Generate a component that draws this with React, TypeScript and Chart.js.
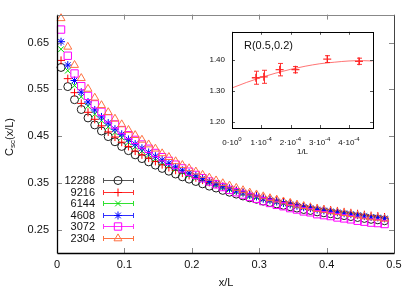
import React, { useEffect, useRef } from "react";
import { Chart, registerables } from "chart.js";
import { drawPoint } from "chart.js/helpers";

Chart.register(...registerables);

const FONT = "'Liberation Sans', Arial, Helvetica, sans-serif";

// ---------- main chart data ----------
const xOverL = [
  0.006, 0.016, 0.026, 0.036, 0.046, 0.056, 0.066, 0.076, 0.086, 0.096,
  0.106, 0.116, 0.126, 0.136, 0.146, 0.156, 0.166, 0.176, 0.186, 0.196,
  0.206, 0.216, 0.226, 0.236, 0.246, 0.256, 0.266, 0.276, 0.286, 0.296,
  0.306, 0.316, 0.326, 0.336, 0.346, 0.356, 0.366, 0.376, 0.386, 0.396,
  0.406, 0.416, 0.426, 0.436, 0.446, 0.456, 0.466, 0.476, 0.486,
];

const c12288 = [
  0.597, 0.556, 0.528, 0.507, 0.489, 0.474, 0.461, 0.449, 0.438, 0.428,
  0.419, 0.41, 0.402, 0.395, 0.388, 0.381, 0.375, 0.369, 0.363, 0.358,
  0.353, 0.348, 0.343, 0.339, 0.334, 0.33, 0.326, 0.322, 0.318, 0.315,
  0.311, 0.308, 0.305, 0.302, 0.299, 0.296, 0.293, 0.291, 0.288, 0.286,
  0.284, 0.282, 0.28, 0.278, 0.276, 0.274, 0.272, 0.271, 0.269,
];
const c9216 = [
  0.612, 0.573, 0.543, 0.52, 0.501, 0.486, 0.472, 0.459, 0.448, 0.437,
  0.428, 0.418, 0.41, 0.403, 0.396, 0.389, 0.383, 0.377, 0.371, 0.366,
  0.361, 0.356, 0.351, 0.347, 0.342, 0.338, 0.334, 0.33, 0.326, 0.323,
  0.319, 0.316, 0.313, 0.31, 0.307, 0.304, 0.301, 0.299, 0.296, 0.294,
  0.292, 0.29, 0.288, 0.286, 0.284, 0.282, 0.28, 0.279, 0.277,
];
const c6144 = [
  0.636, 0.59, 0.558, 0.534, 0.514, 0.497, 0.483, 0.47, 0.458, 0.447,
  0.437, 0.427, 0.418, 0.41, 0.402, 0.394, 0.387, 0.38, 0.373, 0.367,
  0.361, 0.356, 0.35, 0.345, 0.34, 0.336, 0.331, 0.327, 0.322, 0.319,
  0.315, 0.312, 0.309, 0.306, 0.303, 0.3, 0.297, 0.295, 0.292, 0.29,
  0.288, 0.286, 0.284, 0.282, 0.28, 0.278, 0.276, 0.275, 0.273,
];
const c4608 = [
  0.652, 0.602, 0.569, 0.544, 0.523, 0.506, 0.491, 0.478, 0.465, 0.454,
  0.443, 0.433, 0.424, 0.415, 0.407, 0.399, 0.392, 0.384, 0.377, 0.371,
  0.365, 0.359, 0.353, 0.348, 0.342, 0.338, 0.333, 0.329, 0.324, 0.321,
  0.316, 0.313, 0.31, 0.307, 0.304, 0.301, 0.298, 0.296, 0.293, 0.291,
  0.289, 0.287, 0.285, 0.283, 0.281, 0.279, 0.277, 0.276, 0.274,
];
const c3072 = [
  0.678, 0.622, 0.584, 0.557, 0.536, 0.518, 0.502, 0.488, 0.475, 0.463,
  0.452, 0.442, 0.432, 0.423, 0.414, 0.405, 0.397, 0.389, 0.381, 0.374,
  0.367, 0.36, 0.353, 0.347, 0.341, 0.335, 0.33, 0.325, 0.32, 0.316,
  0.311, 0.307, 0.303, 0.3, 0.296, 0.293, 0.289, 0.287, 0.283, 0.281,
  0.279, 0.276, 0.274, 0.272, 0.269, 0.267, 0.265, 0.264, 0.262,
];
const c2304 = [
  0.702, 0.641, 0.602, 0.574, 0.551, 0.532, 0.516, 0.501, 0.487, 0.475,
  0.463, 0.452, 0.442, 0.432, 0.423, 0.413, 0.405, 0.396, 0.388, 0.381,
  0.374, 0.367, 0.361, 0.355, 0.349, 0.344, 0.339, 0.334, 0.329, 0.325,
  0.321, 0.317, 0.314, 0.31, 0.307, 0.303, 0.3, 0.297, 0.294, 0.292,
  0.289, 0.287, 0.285, 0.283, 0.28, 0.278, 0.276, 0.275, 0.273,
];

const seriesLabels = ["12288", "9216", "6144", "4608", "3072", "2304"];
const seriesValues = [c12288, c9216, c6144, c4608, c3072, c2304];

const mainXTicks = [0, 0.1, 0.2, 0.3, 0.4, 0.5];
const mainYTicks = [0.25, 0.35, 0.45, 0.55, 0.65];

// ---------- inset data ----------
const invL = [0.0000814, 0.0001085, 0.0001628, 0.000217, 0.0003255, 0.000434];
const ratioR = [1.342, 1.345, 1.368, 1.368, 1.402, 1.395];
const ratioErr = [0.021, 0.021, 0.02, 0.01, 0.011, 0.01];
const fitX = [0, 0.00005, 0.0001, 0.00015, 0.0002, 0.00025, 0.0003, 0.00035, 0.0004, 0.00045, 0.00048];
const fitY = [1.309, 1.327, 1.343, 1.357, 1.369, 1.379, 1.387, 1.392, 1.396, 1.397, 1.396];
const insetXTicks = [0, 0.0001, 0.0002, 0.0003, 0.0004];
const insetXTickMantissa = ["0", "1", "2", "3", "4"];
const insetXTickExp = ["0", "-4", "-4", "-4", "-4"];
const insetYTicks = [1.2, 1.3, 1.4];
const insetLabel = "R(0.5,0.2)";

// ---------- styles ----------
const colors = ["#1c1c1c", "#ff0000", "#00dd00", "#0000ff", "#ff00ff", "#ff7040"];
const legendLineColors = ["#555555", "#ff3030", "#30e030", "#3030ff", "#ff30ff", "#ff7040"];
const pointStyles = ["circle", "cross", "crossRot", "star", "rect", "triangle"];
const radii = [4, 4, 4, 4, 5.2, 4.6];

function line(ctx: CanvasRenderingContext2D, x1: number, y1: number, x2: number, y2: number) {
  ctx.beginPath();
  ctx.moveTo(x1, y1);
  ctx.lineTo(x2, y2);
  ctx.stroke();
}

const mainDecor = {
  id: "mainDecor",
  afterDraw(chart: any) {
    const { ctx, chartArea: a, scales } = chart;
    const xs = scales.x;
    const ys = scales.y;
    ctx.save();
    ctx.lineWidth = 1;
    // inward ticks, mirrored
    ctx.strokeStyle = "#888";
    for (const v of mainXTicks) {
      const px = Math.round(xs.getPixelForValue(v)) + 0.5;
      line(ctx, px, a.bottom, px, a.bottom - 5);
      line(ctx, px, a.top, px, a.top + 5);
    }
    for (const v of mainYTicks) {
      const py = Math.round(ys.getPixelForValue(v)) + 0.5;
      line(ctx, a.left, py, a.left + 5, py);
      line(ctx, a.right, py, a.right - 5, py);
    }
    // frame
    const L = Math.round(a.left) + 0.5;
    const R = Math.round(a.right) + 0.5;
    const T = Math.round(a.top) + 0.5;
    const B = Math.round(a.bottom) + 0.5;
    ctx.strokeStyle = "#888";
    line(ctx, L, T, R, T);
    ctx.strokeStyle = "#444";
    line(ctx, R, T, R, B);
    ctx.strokeStyle = "#000";
    ctx.lineWidth = 1.3;
    line(ctx, L, T, L, B);
    line(ctx, L, B, R, B);

    // legend
    ctx.lineWidth = 1;
    ctx.font = `11px ${FONT}`;
    ctx.textAlign = "right";
    ctx.textBaseline = "middle";
    seriesLabels.forEach((lab, i) => {
      const y = Math.round(180 + i * 11.5) + 0.5;
      ctx.fillStyle = "#111";
      ctx.fillText(lab, 95, y);
      ctx.strokeStyle = legendLineColors[i];
      line(ctx, 103, y, 134, y);
      line(ctx, 103.5, y - 2.5, 103.5, y + 2.5);
      line(ctx, 133.5, y - 2.5, 133.5, y + 2.5);
      ctx.strokeStyle = colors[i];
      ctx.fillStyle = "rgba(0,0,0,0)";
      drawPoint(ctx, { pointStyle: pointStyles[i], radius: radii[i], borderWidth: 1, rotation: 0 } as any, 118, y);
    });

    // axis titles
    ctx.fillStyle = "#111";
    ctx.font = `11px ${FONT}`;
    ctx.textAlign = "center";
    ctx.textBaseline = "middle";
    ctx.fillText("x/L", 226, 283);

    ctx.translate(10, 137);
    ctx.rotate(-Math.PI / 2);
    const big = `11px ${FONT}`;
    const small = `8px ${FONT}`;
    ctx.font = big;
    const wC = ctx.measureText("C").width;
    const wP = ctx.measureText("(x/L)").width;
    ctx.font = small;
    const wS = ctx.measureText("sc").width;
    let x0 = -(wC + wS + wP) / 2;
    ctx.textAlign = "left";
    ctx.font = big;
    ctx.fillText("C", x0, 0);
    x0 += wC;
    ctx.font = small;
    ctx.fillText("sc", x0, 3);
    x0 += wS;
    ctx.font = big;
    ctx.fillText("(x/L)", x0, 0);
    ctx.restore();
  },
};

const insetDecor = {
  id: "insetDecor",
  beforeDraw(chart: any) {
    const { ctx, chartArea: a } = chart;
    ctx.save();
    ctx.fillStyle = "#fff";
    ctx.fillRect(a.left, a.top, a.right - a.left, a.bottom - a.top);
    ctx.restore();
  },
  afterDatasetsDraw(chart: any) {
    const { ctx, scales } = chart;
    const xs = scales.x;
    const ys = scales.y;
    ctx.save();
    ctx.strokeStyle = "rgba(255,30,30,0.9)";
    ctx.lineWidth = 1;
    invL.forEach((xv, i) => {
      const px = Math.round(xs.getPixelForValue(xv)) + 0.5;
      const y1 = ys.getPixelForValue(ratioR[i] - ratioErr[i]);
      const y2 = ys.getPixelForValue(ratioR[i] + ratioErr[i]);
      line(ctx, px, y1, px, y2);
      line(ctx, px - 2.5, y1, px + 2.5, y1);
      line(ctx, px - 2.5, y2, px + 2.5, y2);
    });
    ctx.restore();
  },
  afterDraw(chart: any) {
    const { ctx, chartArea: a, scales } = chart;
    const xs = scales.x;
    const ys = scales.y;
    ctx.save();
    ctx.lineWidth = 1;
    ctx.strokeStyle = "#555";
    for (const v of insetXTicks) {
      const px = Math.round(xs.getPixelForValue(v)) + 0.5;
      line(ctx, px, a.bottom, px, a.bottom - 3);
      line(ctx, px, a.top, px, a.top + 3);
    }
    for (const v of insetYTicks) {
      const py = Math.round(ys.getPixelForValue(v)) + 0.5;
      line(ctx, a.left, py, a.left + 3, py);
      line(ctx, a.right, py, a.right - 3, py);
    }
    ctx.strokeStyle = "#000";
    ctx.strokeRect(Math.round(a.left) + 0.5, Math.round(a.top) + 0.5, Math.round(a.right - a.left), Math.round(a.bottom - a.top));

    // x tick labels with superscripts
    ctx.fillStyle = "#111";
    ctx.textBaseline = "middle";
    ctx.textAlign = "left";
    const main = `8px ${FONT}`;
    const sup = `6px ${FONT}`;
    insetXTicks.forEach((v, i) => {
      const px = xs.getPixelForValue(v);
      const t1 = insetXTickMantissa[i] + "\u00b710";
      const t2 = insetXTickExp[i];
      ctx.font = main;
      const w1 = ctx.measureText(t1).width;
      ctx.font = sup;
      const w2 = ctx.measureText(t2).width;
      const x0 = px - (w1 + w2) / 2;
      ctx.font = main;
      ctx.fillText(t1, x0, 123);
      ctx.font = sup;
      ctx.fillText(t2, x0 + w1, 119.5);
    });
    ctx.font = main;
    ctx.textAlign = "center";
    ctx.fillText("1/L", (a.left + a.right) / 2, 132);

    ctx.font = `11px ${FONT}`;
    ctx.textAlign = "left";
    ctx.fillText(insetLabel, 49, 26);
    ctx.restore();
  },
};

export default function App() {
  const mainRef = useRef<HTMLCanvasElement>(null);
  const insetRef = useRef<HTMLCanvasElement>(null);

  useEffect(() => {
    const datasets = seriesLabels.map((lab, i) => ({
      label: lab,
      data: xOverL.map((x, j) => ({ x, y: seriesValues[i][j] })),
      showLine: false,
      pointStyle: pointStyles[i],
      pointRadius: radii[i],
      pointBorderWidth: 1,
      borderColor: colors[i],
      pointBorderColor: colors[i],
      pointBackgroundColor: "rgba(0,0,0,0)",
      backgroundColor: "rgba(0,0,0,0)",
      order: 6 - i,
      clip: false as any,
    }));

    const main = new Chart(mainRef.current!, {
      type: "scatter",
      data: { datasets },
      options: {
        animation: false,
        responsive: false,
        maintainAspectRatio: false,
        layout: { padding: { left: 0, right: 21, top: 14, bottom: 0 } },
        plugins: { legend: { display: false }, tooltip: { enabled: false } },
        scales: {
          x: {
            type: "linear",
            min: 0,
            max: 0.5,
            grid: { display: false, drawTicks: false },
            border: { display: false },
            afterBuildTicks: (s: any) => {
              s.ticks = mainXTicks.map((v) => ({ value: v }));
            },
            afterFit: (s: any) => {
              s.height = 38;
            },
            ticks: {
              font: { family: FONT, size: 11 },
              color: "#111",
              padding: 5,
              maxRotation: 0,
              autoSkip: false,
              callback: (v: any) => (Number(v) === 0 ? "0" : Number(v).toFixed(1)),
            },
          },
          y: {
            type: "linear",
            min: 0.2,
            max: 0.71,
            grid: { display: false, drawTicks: false },
            border: { display: false },
            afterBuildTicks: (s: any) => {
              s.ticks = mainYTicks.map((v) => ({ value: v }));
            },
            afterFit: (s: any) => {
              s.width = 57;
            },
            ticks: {
              font: { family: FONT, size: 11 },
              color: "#111",
              padding: 8,
              autoSkip: false,
              callback: (v: any) => Number(v).toFixed(2),
            },
          },
        },
      },
      plugins: [mainDecor],
    });

    const inset = new Chart(insetRef.current!, {
      type: "scatter",
      data: {
        datasets: [
          {
            label: "R",
            data: invL.map((x, i) => ({ x, y: ratioR[i] })),
            showLine: false,
            pointStyle: "cross",
            pointRadius: 4,
            pointBorderWidth: 1.3,
            pointBorderColor: "rgba(255,30,30,0.9)",
            borderColor: "rgba(255,30,30,0.9)",
            order: 1,
          },
          {
            label: "fit",
            data: fitX.map((x, i) => ({ x, y: fitY[i] })),
            showLine: true,
            pointRadius: 0,
            borderColor: "rgba(255,70,70,0.75)",
            borderWidth: 1,
            cubicInterpolationMode: "monotone",
            fill: false,
            order: 2,
          },
        ],
      },
      options: {
        animation: false,
        responsive: false,
        maintainAspectRatio: false,
        layout: { padding: { left: 0, right: 12, top: 8, bottom: 0 } },
        plugins: { legend: { display: false }, tooltip: { enabled: false } },
        scales: {
          x: {
            type: "linear",
            min: 0,
            max: 0.000482,
            grid: { display: false, drawTicks: false },
            border: { display: false },
            ticks: { display: false },
            afterFit: (s: any) => {
              s.height = 32;
            },
          },
          y: {
            type: "linear",
            min: 1.18,
            max: 1.49,
            grid: { display: false, drawTicks: false },
            border: { display: false },
            afterBuildTicks: (s: any) => {
              s.ticks = insetYTicks.map((v) => ({ value: v }));
            },
            afterFit: (s: any) => {
              s.width = 37;
            },
            ticks: {
              font: { family: FONT, size: 8 },
              color: "#111",
              padding: 7,
              autoSkip: false,
              callback: (v: any) => Number(v).toFixed(2),
            },
          },
        },
      },
      plugins: [insetDecor],
    });

    return () => {
      main.destroy();
      inset.destroy();
    };
  }, []);

  return (
    <div style={{ position: "fixed", left: 0, top: 0, width: 415, height: 291, background: "#fff" }}>
      <canvas ref={mainRef} width={415} height={291} style={{ position: "absolute", left: 0, top: 0, width: 415, height: 291 }} />
      <canvas ref={insetRef} width={190} height={140} style={{ position: "absolute", left: 195, top: 20, width: 190, height: 140 }} />
    </div>
  );
}
